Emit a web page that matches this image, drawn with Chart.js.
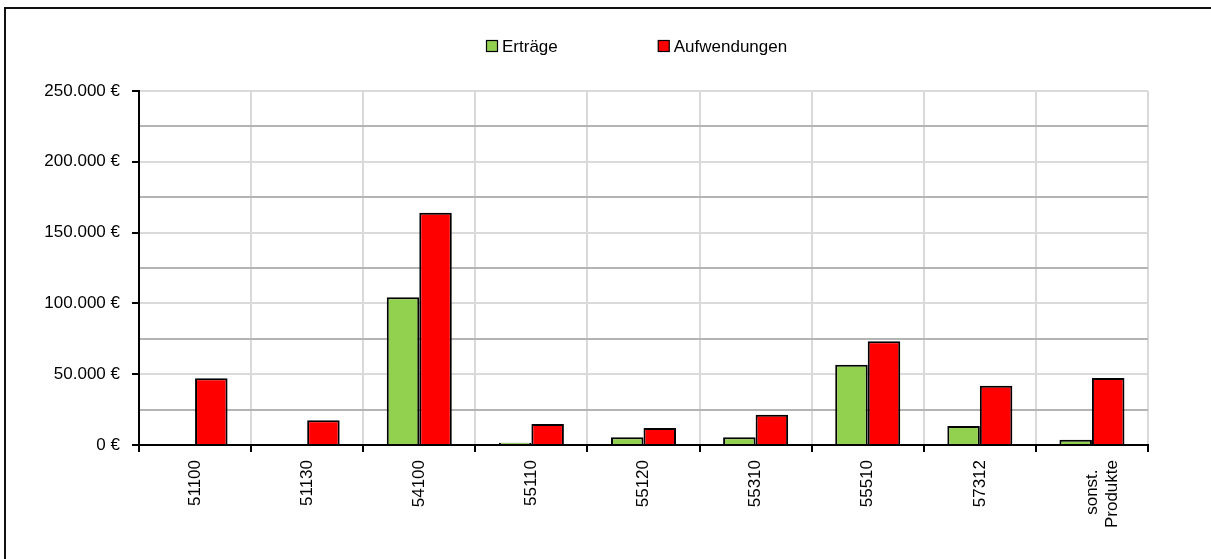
<!DOCTYPE html>
<html lang="de">

<head>
    <meta charset="UTF-8">
    <title>Erträge und Aufwendungen</title>
    <script src="https://cdn.jsdelivr.net/npm/chart.js"></script>
    <style>
        body {
            margin: 0;
            overflow: hidden;
            background: #fff;
        }

        .frame {
            position: absolute;
            left: 4px;
            top: 7px;
            width: 1400px;
            height: 800px;
            border: 2px solid #111;
        }

        #chart {
            position: absolute;
            left: 0;
            top: 0;
        }
    </style>
</head>

<body>
    <div class="frame"></div>
    <canvas id="chart" width="1211" height="559"></canvas>

    <script>
        // Produktgruppen
        const produkte = ["51100", "51130", "54100", "55110", "55120", "55310", "55510", "57312", ["sonst.", "Produkte"]];
        const ertraege = [0, 0, 104300, 1600, 5400, 5400, 56700, 13400, 3700];
        const aufwendungen = [47100, 17400, 164000, 14800, 12000, 21400, 73200, 41900, 47300];
        const serien = ["Erträge", "Aufwendungen"];

        const schrift = { family: "'Liberation Sans', Arial, sans-serif", size: 17 };
        const fontStr = schrift.size + "px " + schrift.family;

        function euro(v) {
            return String(v).replace(/\B(?=(\d{3})+(?!\d))/g, ".") + " €";
        }

        // mehrzeilige Beschriftung mittig setzen (gedrehte Labels sind sonst rechtsbuendig)
        const mess = document.createElement("canvas").getContext("2d");
        mess.font = fontStr;
        function mittig(zeilen) {
            if (!Array.isArray(zeilen)) return zeilen;
            const max = Math.max(...zeilen.map(z => mess.measureText(z).width));
            const leer = mess.measureText(" ").width;
            return zeilen.map(z => z + " ".repeat(Math.round((max - mess.measureText(z).width) / 2 / leer)));
        }

        // Legende als eine Zeile mit grossem Abstand zwischen den Eintraegen
        const legendeZeile = {
            id: "legendeZeile",
            afterDraw(chart) {
                const ctx = chart.ctx;
                const sets = chart.data.datasets;
                const box = 11, gap = 5, abstand = 100;
                ctx.save();
                ctx.font = fontStr;
                ctx.textBaseline = "middle";
                let breite = 0;
                sets.forEach((ds, i) => {
                    breite += box + gap + ctx.measureText(ds.label).width;
                    if (i < sets.length - 1) breite += abstand;
                });
                const mitte = (chart.chartArea.left + chart.chartArea.right) / 2 - 7;
                let x = Math.round(mitte - breite / 2);
                const y = 46;
                sets.forEach(ds => {
                    ctx.fillStyle = ds.backgroundColor;
                    ctx.fillRect(x + 0.5, y - 5.5, box, box);
                    ctx.lineWidth = 1.2;
                    ctx.strokeStyle = "#000";
                    ctx.strokeRect(x + 0.5, y - 5.5, box, box);
                    ctx.fillStyle = "#000";
                    ctx.fillText(ds.label, x + box + gap, y + 1);
                    x += box + gap + ctx.measureText(ds.label).width + abstand;
                });
                ctx.restore();
            }
        };

        new Chart(document.getElementById("chart"), {
            type: "bar",
            data: {
                labels: produkte,
                datasets: [
                    {
                        label: serien[0],
                        data: ertraege,
                        backgroundColor: "#92D050",
                        borderColor: "#000",
                        borderWidth: 2,
                        borderSkipped: "start"
                    },
                    {
                        label: serien[1],
                        data: aufwendungen,
                        backgroundColor: "#FF0000",
                        borderColor: "#000",
                        borderWidth: 2,
                        borderSkipped: "start"
                    }
                ]
            },
            options: {
                responsive: false,
                animation: false,
                devicePixelRatio: 1,
                categoryPercentage: 0.58,
                barPercentage: 1,
                layout: {
                    padding: { left: 0, right: 63, top: 91, bottom: 0 }
                },
                plugins: {
                    legend: { display: false },
                    tooltip: { enabled: false }
                },
                scales: {
                    x: {
                        afterFit(scale) { scale.height = 114; },
                        grid: {
                            offset: true,
                            color: "#d9d9d9",
                            lineWidth: 2,
                            tickLength: 7,
                            tickColor: "#000",
                            tickWidth: 2
                        },
                        border: { display: true, color: "#000", width: 2 },
                        ticks: {
                            color: "#000",
                            font: schrift,
                            minRotation: 90,
                            maxRotation: 90,
                            padding: 8,
                            autoSkip: false,
                            callback: function (v) { return mittig(this.getLabelForValue(v)); }
                        }
                    },
                    y: {
                        min: 0,
                        max: 250000,
                        afterFit(scale) { scale.width = 139; },
                        grid: {
                            color: c => (c.tick && c.tick.value % 50000 !== 0) ? "#b4b4b4" : "#dadada",
                            lineWidth: 2,
                            tickLength: 7,
                            tickColor: c => (c.tick && c.tick.value % 50000 !== 0) ? "rgba(0,0,0,0)" : "#000",
                            tickWidth: 2
                        },
                        border: { display: true, color: "#000", width: 2 },
                        ticks: {
                            stepSize: 25000,
                            autoSkip: false,
                            color: "#000",
                            font: schrift,
                            padding: 12,
                            callback: v => v % 50000 === 0 ? euro(v) : ""
                        }
                    }
                }
            },
            plugins: [legendeZeile]
        });
    </script>
</body>

</html>
